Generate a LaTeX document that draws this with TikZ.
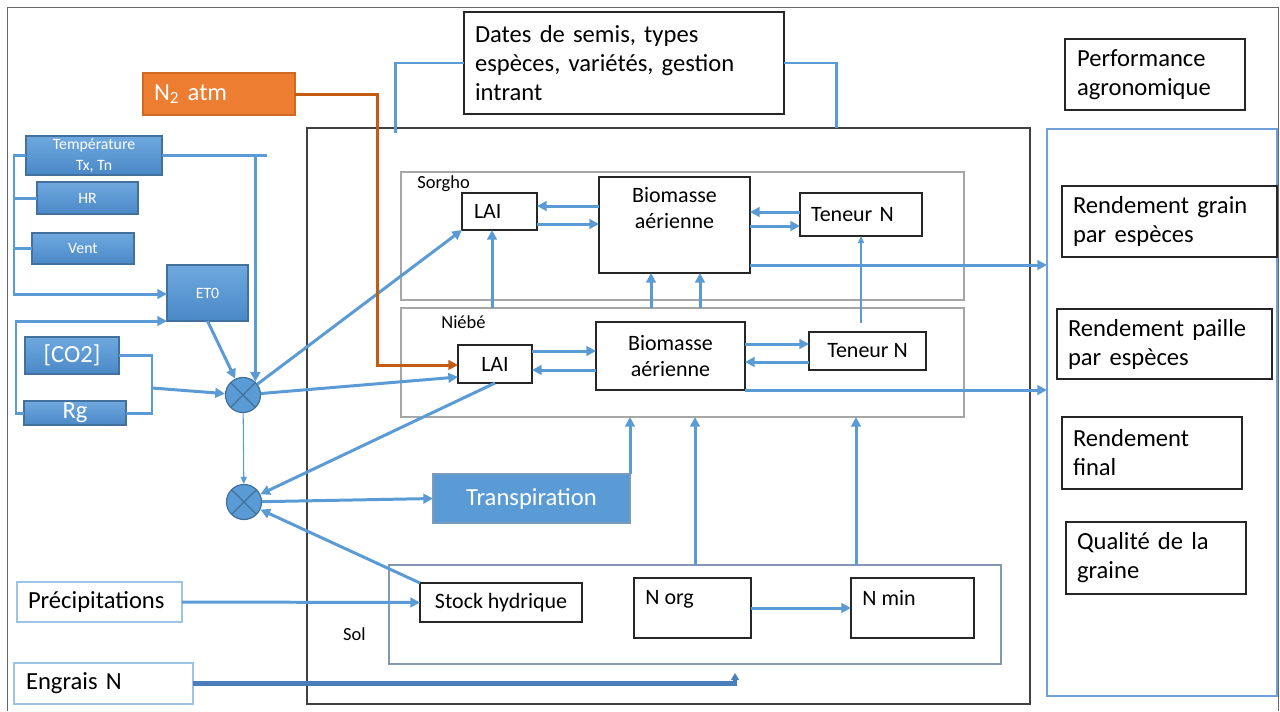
\documentclass[tikz,border=0pt]{standalone}
\usepackage{fontspec}
\setmainfont{Carlito}
\usetikzlibrary{arrows.meta,positioning}

\definecolor{bleu}{HTML}{5B9BD5}
\definecolor{bleuhaut}{HTML}{6EA8DE}
\definecolor{bleubas}{HTML}{4A88C7}
\definecolor{bleufonce}{HTML}{41719C}
\definecolor{bleubord}{HTML}{6FA0D8}
\definecolor{bleuclair}{HTML}{9DC3E6}
\definecolor{bleuengrais}{HTML}{4A7EBB}
\definecolor{orangeN}{HTML}{ED7D31}
\definecolor{orangebord}{HTML}{D06A22}
\definecolor{orangetrait}{HTML}{C55A11}
\definecolor{grisclair}{HTML}{A6A6A6}
\definecolor{grisfonce}{HTML}{404040}
\definecolor{solbord}{HTML}{8497B0}

\tikzset{
  boite/.style={draw=black!85, fill=white, line width=0.7pt, anchor=north west,
    inner sep=0pt, outer sep=0pt},
  taille/.style 2 args={minimum width=#1*0.02cm, minimum height=#2*0.02cm},
  grand/.style={font=\fontsize{14}{16.5}\selectfont},
  moyen/.style={font=\fontsize{12.5}{15}\selectfont},
  etiquette/.style={font=\fontsize{10.5}{12}\selectfont, inner sep=0pt},
  meteo/.style={boite, draw=bleufonce, top color=bleuhaut, bottom color=bleubas,
    text=white, align=center, font=\fontsize{9}{11.5}\selectfont},
  mult/.style={circle, draw=bleufonce, fill=bleu, line width=0.7pt, inner sep=0pt,
    minimum size=0.7cm,
    path picture={\draw[bleufonce, line width=0.7pt]
      (path picture bounding box.north west) -- (path picture bounding box.south east)
      (path picture bounding box.north east) -- (path picture bounding box.south west);}},
  ligne/.style={draw=bleu, line width=1.7pt},
  fleche/.style={ligne, -{Triangle[length=5.5pt,width=5.5pt]}},
  fine/.style={draw=bleu, line width=0.6pt, -{Triangle[length=4pt,width=3.5pt]}},
}

\begin{document}
\begin{tikzpicture}[x=0.02cm, y=-0.02cm]
\useasboundingbox (0,0) rectangle (1280,711);
\draw[grisfonce!80, line width=0.6pt] (7.5,711) -- (7.5,7.5) -- (1278.5,7.5) -- (1278.5,711);

% blocs principaux
\node[boite, draw=grisfonce, line width=1pt, taille={723}{576}] (systeme) at (307,128) {};
\node[boite, draw=bleubord, line width=0.8pt, taille={230}{567}] (bilan) at (1047,129) {};
\node[boite, draw=grisclair, line width=0.9pt, taille={563}{128}] (sorgho) at (401,172) {};
\node[boite, draw=grisclair, line width=0.9pt, taille={563}{109}] (niebe) at (401,308) {};
\node[boite, draw=solbord, line width=0.9pt, taille={612}{99}] (sol) at (389,565) {};
\node[etiquette, below right=0.06cm and 0.32cm of sorgho.north west] (lsorgho) {Sorgho};
\node[etiquette, below right=0.14cm and 0.8cm of niebe.north west] (lniebe) {Niébé};
\node[etiquette, below left=0.25cm and 0.46cm of sol.west] (lsol) {Sol};

% meteo
\node[meteo, taille={136}{39}] (temp) at (26,136) {Température\\Tx, Tn};
\node[meteo, taille={101}{32}] (hr) at (37,182) {HR};
\node[meteo, taille={102}{31}] (vent) at (32,233) {Vent};
\node[meteo, taille={81}{56}] (et0) at (167,265) {ET0};
\node[meteo, grand, taille={94}{37}] (co2) at (25,337) {[CO2]};
\node[meteo, grand, taille={102}{24}] (rg) at (24,401) {Rg};
\node[mult] (c1) at (243,395) {};
\node[mult] (c2) at (244,502) {};

% entrees
\node[boite, draw=orangebord, fill=orangeN, text=white, grand, taille={152}{42},
  align=left, text width=2.6cm, inner xsep=0.22cm] (n2) at (143,73) {N\textsubscript{2} atm};
\node[boite, grand, taille={320}{102}, align=left, text width=5.96cm, inner xsep=0.22cm]
  (dates) at (464,12) {Dates de semis, types\\espèces, variétés, gestion\\intrant};
\node[boite, draw=bleuclair, grand, taille={165}{40}, align=left, text width=2.86cm,
  inner xsep=0.22cm] (precip) at (17,582) {Précipitations};
\node[boite, draw=bleuclair, grand, taille={179}{41}, align=left, text width=3.1cm,
  inner xsep=0.24cm] (engrais) at (14,663) {Engrais N};

% cultures
\node[boite, moyen, taille={75}{37}, align=left, text width=1.02cm, inner xsep=0.24cm]
  (laiS) at (462,193) {LAI};
\node[boite, taille={151}{96}] (bioS) at (599,177) {};
\node[moyen, align=center, inner sep=0pt, below=0.2cm of bioS.north] (lbioS) {Biomasse\\aérienne};
\node[boite, moyen, taille={122}{43}, align=left, text width=2cm, inner xsep=0.22cm]
  (tenS) at (800,193) {Teneur N};
\node[boite, moyen, taille={74}{38}] (laiN) at (458,345) {LAI};
\node[boite, moyen, align=center, taille={149}{68}] (bioN) at (596,322) {Biomasse\\aérienne};
\node[boite, moyen, taille={117}{38}] (tenN) at (809,332) {Teneur N};
\node[boite, draw=bleufonce!70, fill=bleu, text=white, grand, taille={197}{49}]
  (transp) at (433,474) {Transpiration};

% sol
\node[boite, moyen, taille={162}{39}] (stock) at (420,583) {Stock hydrique};
\node[boite, taille={117}{60}] (norg) at (634,578) {};
\node[moyen, inner sep=0pt, below right=0.24cm and 0.22cm of norg.north west] (lnorg) {N org};
\node[boite, taille={123}{60}] (nmin) at (851,578) {};
\node[moyen, inner sep=0pt, below right=0.24cm and 0.22cm of nmin.north west] (lnmin) {N min};

% performance
\node[boite, grand, taille={180}{71}, align=left, text width=3.12cm, inner xsep=0.24cm]
  (perf) at (1065,39) {Performance\\agronomique};
\node[boite, grand, taille={215}{71}, align=left, text width=3.86cm, inner xsep=0.22cm]
  (rgrain) at (1062,186) {Rendement grain\\par espèces};
\node[boite, grand, taille={215}{70}, align=left, text width=3.86cm, inner xsep=0.22cm]
  (rpaille) at (1057,309) {Rendement paille\\par espèces};
\node[boite, grand, taille={180}{72}, align=left, text width=3.16cm, inner xsep=0.22cm]
  (rfinal) at (1062,417) {Rendement\\final};
\node[boite, grand, taille={180}{72}, align=left, text width=3.16cm, inner xsep=0.22cm]
  (qualite) at (1066,522) {Qualité de la\\graine};

% points libres
\coordinate (busB) at (14,294);
\coordinate (jonction) at (152,388);
\coordinate (coude) at (377,365);
\coordinate (datesG) at (395,133);
\coordinate (datesD) at (836,128);
\coordinate (engraisfin) at (735,673);

% meteo vers ET0 et multiplicateurs
\draw[fleche] (temp.west) -| (busB) -- (et0.west |- busB);
\draw[ligne] (hr.west) -- (hr.west -| busB);
\draw[ligne] (vent.west) -- (vent.west -| busB);
\draw[fleche] (rg.west) -- ++(-8,0) |- (et0.south west);
\draw[ligne] (co2.east) -| (jonction) |- (rg.east);
\draw[fleche] (jonction) -- (c1);
\draw[ligne] (temp.east) -- ++(105,0);
\draw[fleche] (c1.47 |- temp.east) -- (c1.47);
\draw[fleche] (et0.south) -- (c1);
\draw[fleche] (c1) -- (laiS.south west);
\draw[fleche] (c1) -- (laiN.west |- 0,377);
\draw[fine] (c1) -- (c2);
\draw[fleche] (laiN.south) -- (c2);
\draw[fleche] (c2) -- (transp.west);
\draw[fleche] (stock.north west) -- (c2);
\draw[fleche] (transp.north east) -- (transp.north east |- niebe.south);

% entrees
\draw[draw=orangetrait, line width=1.7pt, -{Triangle[length=5.5pt,width=5.5pt]}]
  (n2.east) -| (coude) -- (laiN.west |- coude);
\draw[ligne] (dates.west) -| (datesG);
\draw[ligne] (dates.east) -| (datesD);
\draw[fleche] (precip.east) -- (stock.west);
\draw[draw=bleuengrais, line width=2.4pt, -{Triangle[length=4pt,width=4.5pt]}]
  (engrais.east) -| (engraisfin);

% sorgho
\draw[fleche] (bioS.west |- 0,206) -- (laiS.east |- 0,206);
\draw[fleche] (laiS.east |- 0,224) -- (bioS.west |- 0,224);
\draw[fleche] (tenS.west |- 0,212) -- (bioS.east |- 0,212);
\draw[fleche] (bioS.east |- 0,226) -- (tenS.west |- 0,226);
\draw[fleche] (bioS.east |- 0,265) -- (bilan.west |- 0,265);

% niebe
\draw[fleche] (laiN.east |- 0,351) -- (bioN.west |- 0,351);
\draw[fleche] (bioN.west |- 0,370) -- (laiN.east |- 0,370);
\draw[fleche] (bioN.east |- 0,344) -- (tenN.west |- 0,344);
\draw[fleche] (tenN.west |- 0,362) -- (bioN.east |- 0,362);
\draw[fleche] (bioN.south east) -- (bilan.west |- bioN.south east);
\draw[fleche] (niebe.north -| 492,0) -- (laiS.south -| 492,0);
\draw[fleche] (niebe.north -| 651,0) -- (bioS.south -| 651,0);
\draw[fleche] (niebe.north -| 700,0) -- (bioS.south -| 700,0);
\draw[fine] (tenS.south |- 0,323) -- (tenS.south);

% sol
\draw[fleche] (norg) -- (nmin);
\draw[fleche] (sol.north -| 695,0) -- (niebe.south -| 695,0);
\draw[fleche] (sol.north -| 856,0) -- (niebe.south -| 856,0);
\end{tikzpicture}
\end{document}
